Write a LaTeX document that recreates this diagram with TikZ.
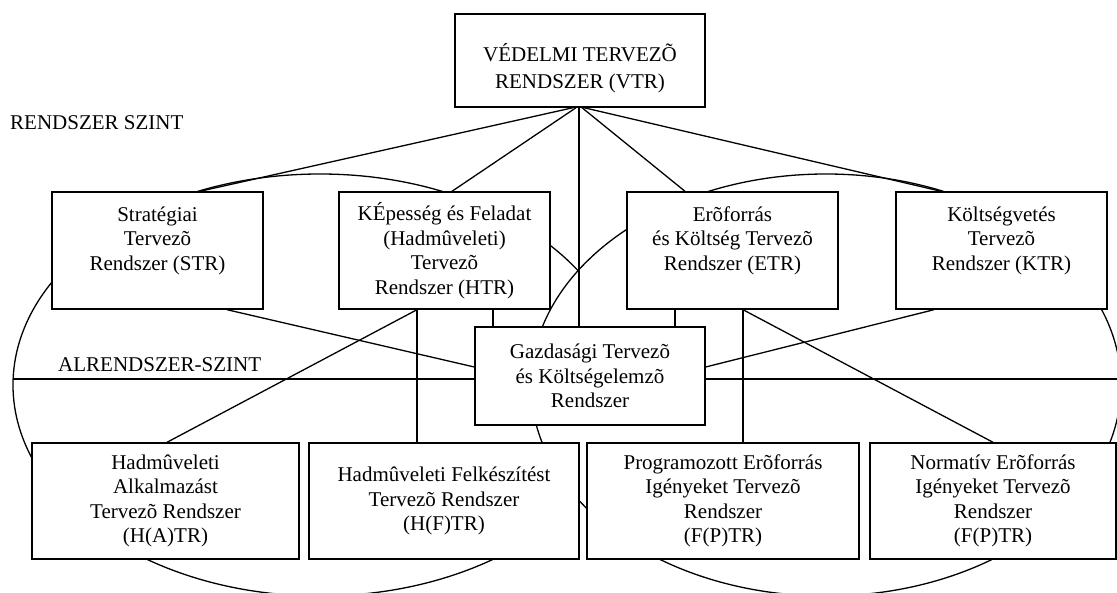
\documentclass[tikz,border=0pt]{standalone}
\usepackage{fontspec}
\setmainfont{Liberation Serif}
\usetikzlibrary{backgrounds}

\tikzset{
    sysbox/.style={draw=black, fill=white, line width=1.4pt, align=center, inner sep=0pt},
    topbox/.style={sysbox, minimum width=211pt, minimum height=117pt},
    lowbox/.style={sysbox, minimum height=116pt},
    link/.style={draw=black, line width=1.3pt},
    levellabel/.style={anchor=west, inner sep=0pt}
}

\begin{document}
\begin{tikzpicture}[x=1pt, y=-1pt, font=\fontsize{21}{24.5}\selectfont]
        \useasboundingbox (0,0) rectangle (1117,593);

        % rendszer szint
        \node[sysbox, minimum width=250pt, minimum height=93pt, text height=60pt, text depth=4pt] (vtr) at (580,60.5) {VÉDELMI TERVEZÕ\\[2.5pt]RENDSZER (VTR)};
        \node[levellabel] (rszint) at (10,123) {RENDSZER SZINT};

        \node[topbox] (str) at (157.5,250.5) {Stratégiai\\Tervezõ\\Rendszer (STR)\\\mbox{}};
        \node[topbox] (htr) at (444.5,250.5) {KÉpesség és Feladat\\(Hadmûveleti)\\Tervezõ\\Rendszer (HTR)};
        \node[topbox] (etr) at (732.5,250.5) {Erõforrás\\és Költség Tervezõ\\Rendszer (ETR)\\\mbox{}};
        \node[topbox] (ktr) at (1001.5,250.5) {Költségvetés\\Tervezõ\\Rendszer (KTR)\\\mbox{}};

        \node[sysbox, minimum width=230pt, minimum height=98pt] (gtr) at (590,376) {Gazdasági Tervezõ\\és Költségelemzõ\\Rendszer};

        % alrendszer szint
        \node[levellabel] (aszint) at (58,365) {ALRENDSZER-SZINT};
        \coordinate (lvl) at (13,379);
        \coordinate (rvl) at (1117,379);

        \node[lowbox, minimum width=267pt] (hatr) at (165.5,501) {Hadmûveleti\\Alkalmazást\\Tervezõ Rendszer\\(H(A)TR)};
        \node[lowbox, minimum width=270pt] (hftr) at (444,501) {Hadmûveleti Felkészítést\\Tervezõ Rendszer\\(H(F)TR)};
        \node[lowbox, minimum width=272pt] (fptr) at (723,501) {Programozott Erõforrás\\Igényeket Tervezõ\\Rendszer\\(F(P)TR)};
        \node[lowbox, minimum width=246pt] (nptr) at (993,501) {Normatív Erõforrás\\Igényeket Tervezõ\\Rendszer\\(F(P)TR)};

        % kapcsolatok
        \draw[link] ([xshift=-7pt]vtr.south) -- ([xshift=42.5pt]str.north);
        \draw[link] ([xshift=-4pt]vtr.south) -- ([xshift=7.5pt]htr.north);
        \draw[link] ([xshift=-1pt]vtr.south) -- ([xshift=-1pt]vtr.south |- gtr.north);
        \draw[link] ([xshift=2pt]vtr.south) -- ([xshift=-47.5pt]etr.north);
        \draw[link] ([xshift=4pt]vtr.south) -- ([xshift=-60.5pt]ktr.north);

        \draw[link] ([xshift=69.5pt]str.south) -- ([yshift=9pt]gtr.west);
        \draw[link] ([xshift=-67.5pt]ktr.south) -- ([yshift=9pt]gtr.east);
        \draw[link] ([xshift=48.5pt]htr.south) -- ([xshift=48.5pt]htr.south |- gtr.north);
        \draw[link] ([xshift=-57.5pt]etr.south) -- ([xshift=-57.5pt]etr.south |- gtr.north);

        \draw[link] ([xshift=-27.5pt]htr.south) -- ([xshift=1.5pt]hatr.north);
        \draw[link] ([xshift=-27.5pt]htr.south) -- ([xshift=-27.5pt]htr.south |- hftr.north);
        \draw[link] ([xshift=10.5pt]etr.south) -- ([xshift=10.5pt]etr.south |- fptr.north);
        \draw[link] ([xshift=10.5pt]etr.south) -- (nptr.north);

        \draw[link] (lvl) -- (lvl -| gtr.west);
        \draw[link] (lvl -| gtr.east) -- (rvl);

        % a ket ellipszis
        \begin{scope}[on background layer]
            \begin{scope}
                \clip (0,0) rectangle (579,600);
                \draw[link] (320,385) ellipse [x radius=307pt, y radius=211pt];
            \end{scope}
            \draw[link] (826,385) ellipse [x radius=295pt, y radius=211pt];
        \end{scope}
    \end{tikzpicture}
\end{document}
